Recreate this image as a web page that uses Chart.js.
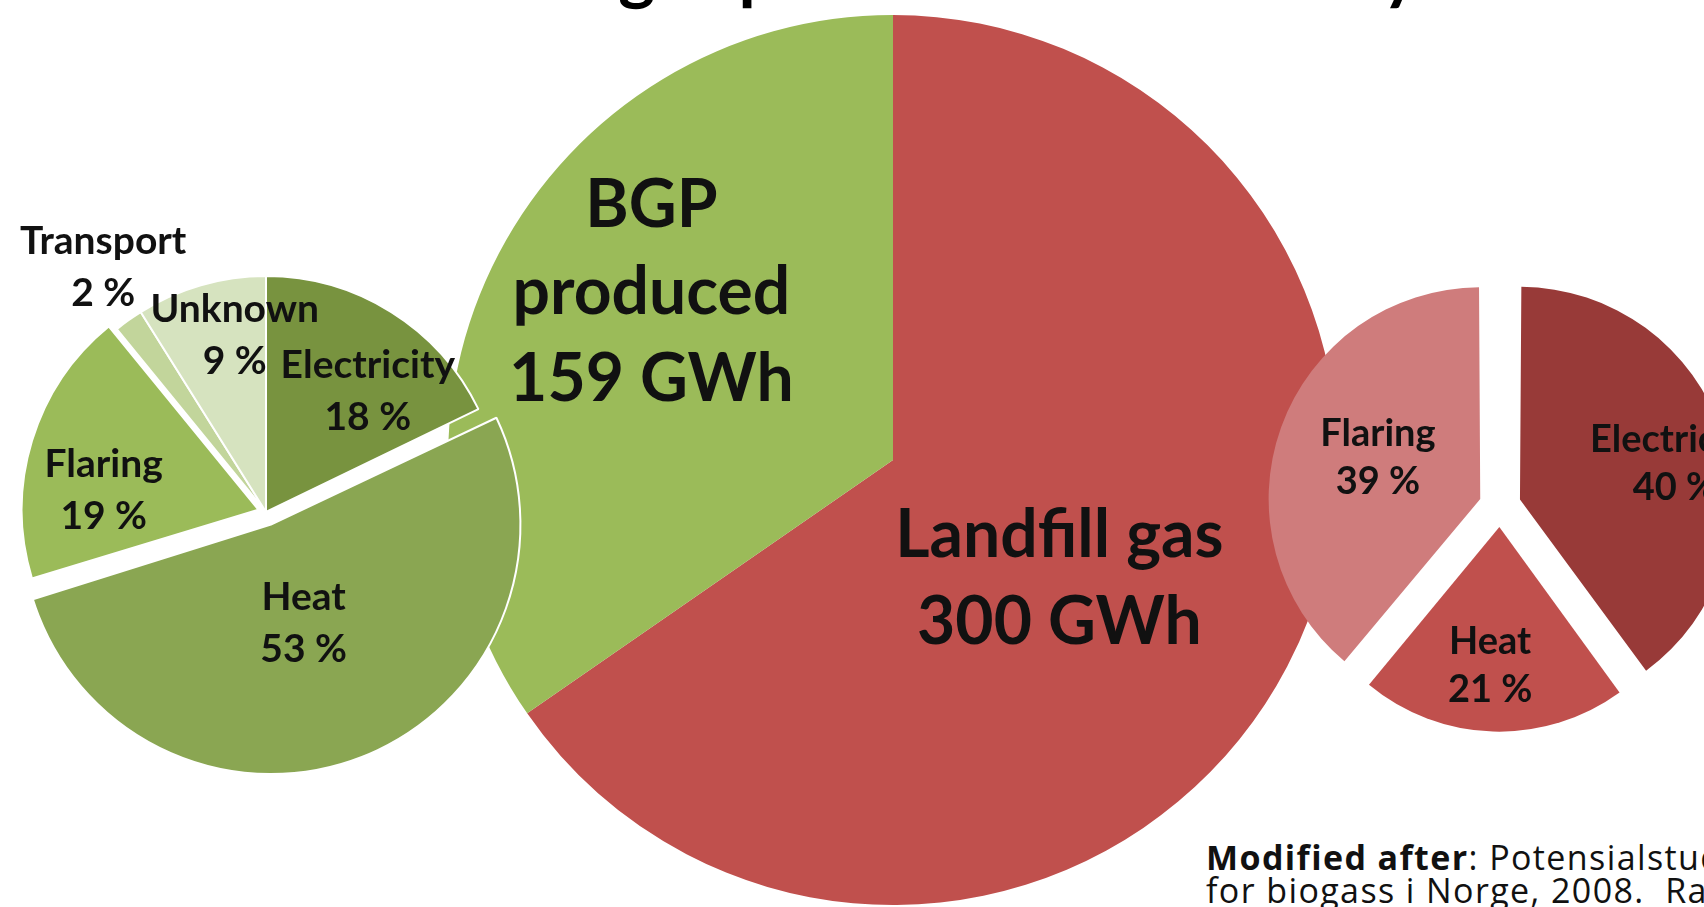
<!DOCTYPE html>
<html>
<head>
<meta charset="utf-8">
<script src="https://cdn.jsdelivr.net/npm/chart.js@4.4.0/dist/chart.umd.min.js"></script>
<style>
html, body { margin: 0; padding: 0; background: #fff; }
body { width: 1704px; height: 907px; overflow: hidden; position: relative; font-family: Lato, "Open Sans", sans-serif; }
canvas { position: absolute; }
#title { position: absolute; left: 515px; top: -66px; font-weight: bold; font-size: 70px; line-height: 1; white-space: nowrap; color: #000; }
#source { position: absolute; left: 1206px; top: 841px; font-family: "Open Sans", sans-serif; font-size: 34px; line-height: 33px; letter-spacing: 1.4px; white-space: nowrap; color: #111; }
</style>
</head>
<body>
<div id="title">Biogas production in Norway</div>
<div id="source"><b>Modified after</b>: Potensialstudie<br>for biogass i Norge, 2008.&nbsp; Raadal,<br>H.L., Schakenda, V. &amp; Morken, J.</div>

<script>
// main split of the gas produced (GWh)
const gasLabels = ['Landfill gas', 'BGP produced'];
const gasValues = [300, 159];
const gasColors = ['#C0504D', '#9BBB59'];

// use of biogas from biogas plants (%)
const bgpLabels = ['Electricity', 'Heat', 'Flaring', 'Transport', 'Unknown'];
const bgpShares = [18, 53, 19, 2, 9];
const bgpColors = ['#78933F', '#8AA652', '#9BBB59', '#C2D59B', '#D6E3BF'];

// use of landfill gas (%)
const lfgLabels = ['Electricity', 'Heat', 'Flaring'];
const lfgShares = [40, 21, 39];
const lfgColors = ['#983A38', '#C0504D', '#CF7C7C'];

// draws the text inside (or next to) each slice
const sliceText = {
    id: 'sliceText',
    afterDatasetsDraw(chart, args, opts) {
        const ctx = chart.ctx;
        const meta = chart.getDatasetMeta(0);
        ctx.save();
        ctx.font = `bold ${opts.size}px Lato, "Open Sans", sans-serif`;
        ctx.fillStyle = '#111';
        ctx.textAlign = 'center';
        ctx.textBaseline = 'middle';
        meta.data.forEach((arc, i) => {
            const p = arc.getProps(['x', 'y', 'startAngle', 'endAngle', 'outerRadius'], true);
            const mid = (p.startAngle + p.endAngle) / 2;
            const push = (arc.options.offset || 0) / 4;
            const [dAng, frac] = opts.place[i];
            const a = mid + dAng * Math.PI / 180;
            const cx = p.x + Math.cos(mid) * push + Math.cos(a) * frac * p.outerRadius;
            const cy = p.y + Math.sin(mid) * push + Math.sin(a) * frac * p.outerRadius;
            const lines = opts.lines(i);
            lines.forEach((t, k) => {
                ctx.fillText(t, cx, cy + (k - (lines.length - 1) / 2) * opts.lineHeight);
            });
        });
        ctx.restore();
    }
};

function makePie(cx, cy, size, radius, labels, values, colors, extra, textOpts) {
    const canvas = document.createElement('canvas');
    canvas.width = size;
    canvas.height = size;
    canvas.style.left = (cx - size / 2) + 'px';
    canvas.style.top = (cy - size / 2) + 'px';
    document.body.appendChild(canvas);
    return new Chart(canvas, {
        type: 'pie',
        data: {
            labels: labels,
            datasets: [Object.assign({
                data: values,
                backgroundColor: colors
            }, extra)]
        },
        options: {
            responsive: false,
            devicePixelRatio: 1,
            animation: false,
            events: [],
            radius: radius,
            layout: { padding: 0 },
            plugins: {
                legend: { display: false },
                tooltip: { enabled: false },
                sliceText: textOpts
            }
        },
        plugins: [sliceText]
    });
}

// big pie first so the two small ones sit on top of it
makePie(893, 460, 900, 445, gasLabels, gasValues, gasColors,
    { borderWidth: 0 },
    {
        size: 66, lineHeight: 87,
        place: [[8, 0.46], [7, 0.66]],
        lines: i => i === 0 ? ['Landfill gas', gasValues[0] + ' GWh'] : ['BGP', 'produced', gasValues[1] + ' GWh']
    });

makePie(266, 512, 600, 236, bgpLabels, bgpShares, bgpColors,
    { borderWidth: 2, borderColor: '#fff', offset: [0, 54, 32, 0, 0] },
    {
        size: 39, lineHeight: 52,
        place: [[8, 0.67], [3, 0.44], [-10, 0.66], [2, 1.245], [6, 0.76]],
        lines: i => [bgpLabels[i], bgpShares[i] + ' %']
    });

makePie(1500, 506, 500, 204, lfgLabels, lfgShares, lfgColors,
    { borderWidth: 0, offset: 84 },
    {
        size: 38, lineHeight: 48,
        place: [[5, 0.78], [2, 0.68], [2, 0.54]],
        lines: i => [lfgLabels[i], lfgShares[i] + ' %']
    });
</script>
</body>
</html>
